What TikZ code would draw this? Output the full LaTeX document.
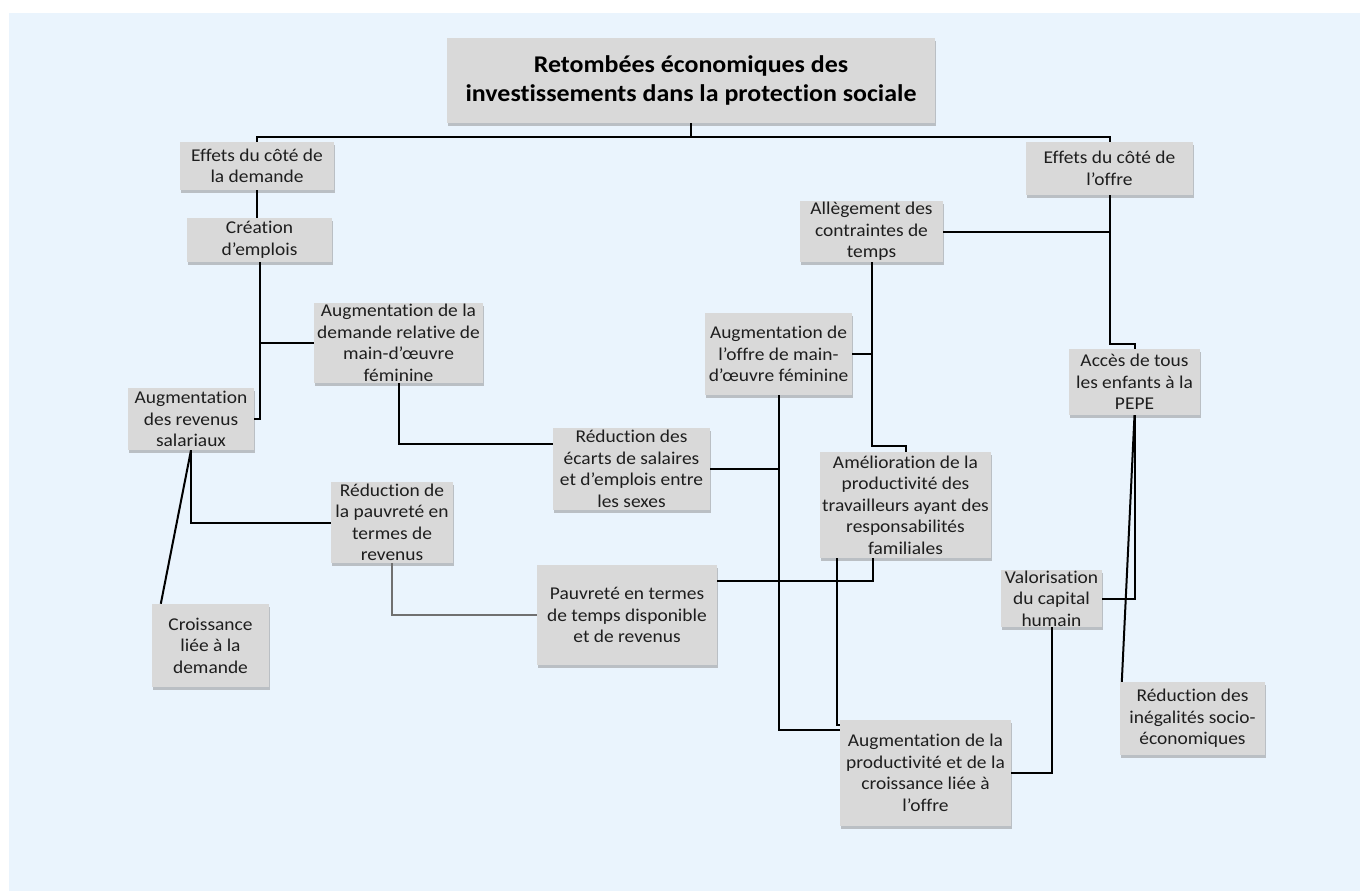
\documentclass[tikz,border=0pt]{standalone}
\usepackage{fontspec}
\setmainfont{Carlito}[FakeStretch=1.08, Ligatures={NoCommon}]
\usetikzlibrary{calc,shadows}
\definecolor{bg}{HTML}{EAF4FD}
\definecolor{boxfill}{HTML}{D9D9D9}
\definecolor{txt}{HTML}{1E1E1E}
\definecolor{lngray}{HTML}{707070}
\tikzset{
  bx/.style={fill=boxfill, text=txt, inner sep=0pt, align=center,
    font=\fontsize{18}{21.5}\selectfont,
    drop shadow={shadow xshift=1.2pt, shadow yshift=-3pt, fill=black!45, opacity=0.5}},
  ln/.style={line width=2pt, black},
  lng/.style={line width=2pt, lngray},
}
\begin{document}
\begin{tikzpicture}[x=1pt,y=-1pt]
\useasboundingbox (0,0) rectangle (1360,891);
\fill[white] (0,0) rectangle (1360,891);
\fill[bg] (9,13) rectangle (1360,891);

\node[bx, minimum width=488pt, minimum height=85pt, font=\fontsize{24}{29}\selectfont\bfseries, text=black] (title) at (691,80.5)
  {Retombées économiques des\\investissements dans la protection sociale};
\node[bx, minimum width=154pt, minimum height=48pt] (dem) at (257,166) {Effets du côté de\\la demande};
\node[bx, minimum width=167pt, minimum height=53pt] (offre) at (1109.5,168.5) {Effets du côté de\\l’offre};
\node[bx, minimum width=145pt, minimum height=44pt] (emploi) at (259.5,240) {Création\\d’emplois};
\node[bx, minimum width=169pt, minimum height=80pt] (demrel) at (398.5,343) {Augmentation de la\\demande relative de\\main-d’œuvre\\féminine};
\node[bx, minimum width=126pt, minimum height=62pt] (revsal) at (191,419) {Augmentation\\des revenus\\salariaux};
\node[bx, minimum width=157pt, minimum height=82pt] (ecarts) at (631.5,469) {Réduction des\\écarts de salaires\\et d’emplois entre\\les sexes};
\node[bx, minimum width=122pt, minimum height=81pt] (pauvrev) at (392,522.5) {Réduction de\\la pauvreté en\\termes de\\revenus};
\node[bx, minimum width=117pt, minimum height=83pt] (croiss) at (210.5,645.5) {Croissance\\liée à la\\demande};
\node[bx, minimum width=180pt, minimum height=100pt] (ptemps) at (627,615) {Pauvreté en termes\\de temps disponible\\et de revenus};
\node[bx, minimum width=143pt, minimum height=61pt] (alleg) at (871.5,231.5) {Allègement des\\contraintes de\\temps};
\node[bx, minimum width=147pt, minimum height=82pt] (offmo) at (778.5,354) {Augmentation de\\l’offre de main-\\d’œuvre féminine};
\node[bx, minimum width=171pt, minimum height=106pt] (amel) at (905.5,505) {Amélioration de la\\productivité des\\travailleurs ayant des\\responsabilités\\familiales};
\node[bx, minimum width=131pt, minimum height=66pt] (acces) at (1134.5,382) {Accès de tous\\les enfants à la\\PEPE};
\node[bx, minimum width=101pt, minimum height=57pt] (valor) at (1051.5,598.5) {Valorisation\\du capital\\humain};
\node[bx, minimum width=171pt, minimum height=106pt] (prodcr) at (925.5,773) {Augmentation de la\\productivité et de la\\croissance liée à\\l’offre};
\node[bx, minimum width=145pt, minimum height=73pt] (ineg) at (1192.5,718.5) {Réduction des\\inégalités socio-\\économiques};

% connectors
\coordinate (tj) at ($(title.south)+(0,14)$);
\draw[ln] (title.south) -- (tj) -| (dem.north);
\draw[ln] (tj) -| (offre.north);
\draw[ln] (dem.south) -- (dem.south |- emploi.north);
\draw[ln] (emploi.south) |- (revsal.east);
\draw[ln] (emploi.south |- demrel.west) -- (demrel.west);
\draw[ln] (demrel.south) |- ($(ecarts.west)+(0,-25)$);
\draw[ln] (revsal.south) |- (pauvrev.west);
\draw[ln] (revsal.south) -- ($(croiss.north west)+(9,0)$);
\draw[lng] (pauvrev.south) |- (ptemps.west);
\draw[ln] ($(ptemps.north east)+(0,16)$) -| ($(amel.south)+(-33,0)$);
\draw[ln] (offmo.south) |- ($(prodcr.north west)+(0,10)$);
\draw[ln] (ecarts.east) -- (ecarts.east -| offmo.south);
\draw[ln] ($(amel.south west)+(17,0)$) |- ($(prodcr.north west)+(0,5)$);
\draw[ln] (offre.south) |- ($(acces.north)+(0,-5)$) -- (acces.north);
\draw[ln] (alleg.east) -- (alleg.east -| offre.south);
\draw[ln] (alleg.south) |- ($(amel.north)+(0,-6)$) -- (amel.north);
\draw[ln] (offmo.east) -- (offmo.east -| alleg.south);
\draw[ln] (acces.south) |- (valor.east);
\draw[ln] (acces.south) -- ($(ineg.north west)+(2,0)$);
\draw[ln] (valor.south) |- (prodcr.east);
\end{tikzpicture}
\end{document}
